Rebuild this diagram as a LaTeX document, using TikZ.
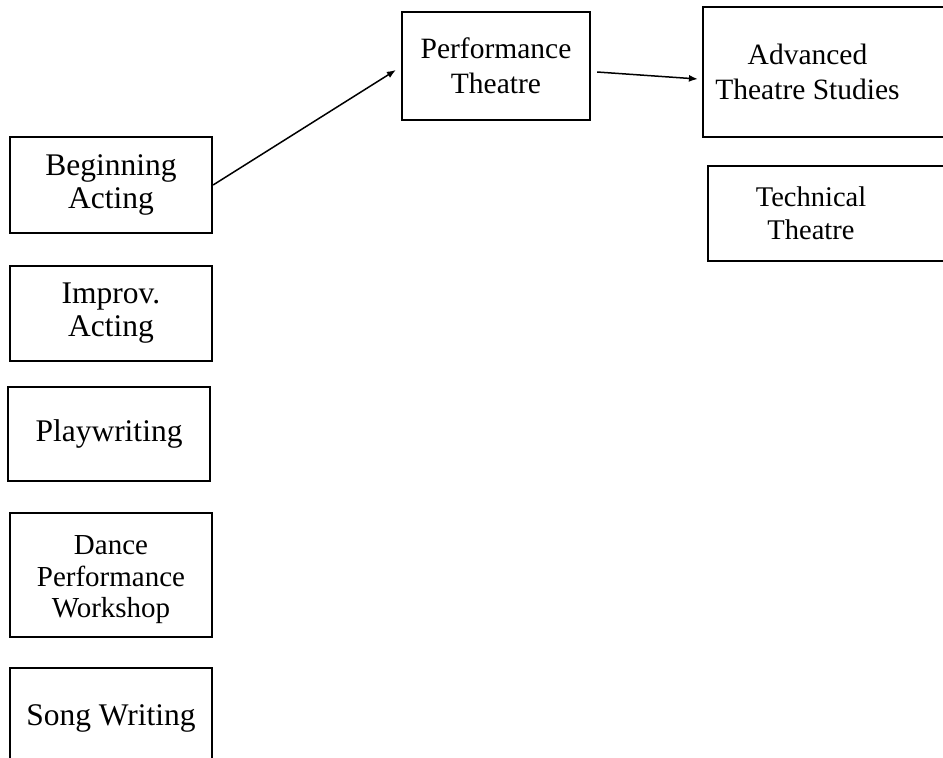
\documentclass[tikz,border=0pt]{standalone}
\usepackage{fontspec}
\setmainfont{Liberation Serif}
\usetikzlibrary{arrows.meta}
\begin{document}
\begin{tikzpicture}[x=1pt,y=-1pt,
  boxnode/.style={draw=black,line width=2.2pt,rectangle,inner sep=0pt,align=center,
    font=\fontsize{29.5}{35}\selectfont},
  leftbox/.style={boxnode,minimum width=202pt,font=\fontsize{31.5}{33}\selectfont},
  txtnode/.style={inner sep=0pt,align=center,font=\fontsize{29.5}{35}\selectfont},
  conn/.style={line width=1.5pt,-{Latex[length=9pt,width=7pt]}}]
\useasboundingbox (0,0) rectangle (943,758);
\clip (0,0) rectangle (943,758);
% left column
\node[leftbox,minimum height=96pt] (ba) at (111,185) {Beginning\\Acting};
\node[leftbox,minimum height=95pt] (imp) at (111,313.5) {Improv.\\Acting};
\node[leftbox,minimum height=94pt] (pw) at (109,434) {Playwriting};
\node[leftbox,minimum height=124pt] (dpw) at (111,575) {};
\node[txtnode,font=\fontsize{29}{31.5}\selectfont] (dpwt) at (111,580) {Dance\\Performance\\Workshop};
\node[leftbox,minimum height=100pt] (sw) at (111,718) {Song Writing};
% middle
\node[boxnode,minimum width=188pt,minimum height=108pt] (pt) at (496,66) {Performance\\Theatre};
% right column
\node[boxnode,minimum width=247pt,minimum height=130pt] (adv) at (826.5,72) {};
\node[txtnode] (advt) at (807.5,72) {Advanced\\Theatre Studies};
\node[boxnode,minimum width=242pt,minimum height=95pt] (tech) at (829,213.5) {};
\node[txtnode,font=\fontsize{28.5}{33}\selectfont] (techt) at (811,213) {Technical\\Theatre};
% connectors
\draw[conn] (ba.east) -- ([xshift=-5pt,yshift=-4pt]pt.west);
\draw[conn] ([xshift=6pt,yshift=-6pt]pt.east) -- ([xshift=-4pt,yshift=-7pt]adv.west);
\end{tikzpicture}
\end{document}
